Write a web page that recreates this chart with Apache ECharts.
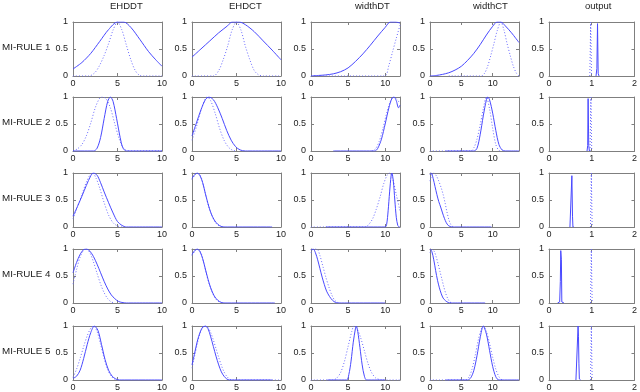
<!DOCTYPE html>
<html><head><meta charset="utf-8">
<script src="https://cdn.jsdelivr.net/npm/echarts@6/dist/echarts.min.js"></script>
<style>html,body{margin:0;padding:0;background:#fff}#c{width:640px;height:392px}</style>
</head><body><div id="c"></div>
<script>
// ---- labels ----
const variables = ['EHDDT', 'EHDCT', 'widthDT', 'widthCT', 'output'];
const rules = ['MI-RULE 1', 'MI-RULE 2', 'MI-RULE 3', 'MI-RULE 4', 'MI-RULE 5'];
const xMax = [10, 10, 12, 14.2, 2];
const xInterval = [5, 5, 5, 5, 1];
const yMin = 0, yMax = 1, yInterval = 0.5;

// ---- MI-RULE 1 ----
const r1_EHDDT_solid = [[0,0.13],[1,0.25],[2,0.42],[3,0.64],[4,0.86],[5,1],[5.7,1],[6.5,0.9],[7.5,0.68],[8.5,0.45],[9.3,0.3],[10,0.18]];
const r1_EHDDT_dot = [[0,0],[1.8,0],[2.5,0.07],[3,0.2],[3.5,0.38],[4,0.6],[4.5,0.85],[5,1],[5.5,0.85],[6,0.57],[6.5,0.3],[7,0.1],[7.5,0.01],[8,0],[10,0]];
const r1_EHDCT_solid = [[0,0.35],[1,0.5],[2,0.65],[3,0.8],[4,0.93],[4.5,1],[5.3,1],[6,0.95],[7,0.82],[8,0.65],[9,0.48],[10,0.3]];
const r1_EHDCT_dot = [[0,0],[2.4,0],[3,0.1],[3.5,0.3],[4,0.55],[4.5,0.85],[5,1],[5.5,0.85],[6,0.55],[6.5,0.3],[7,0.1],[7.5,0.02],[8,0],[10,0]];
const r1_widthDT_solid = [[0,0],[1,0.01],[2,0.02],[3,0.04],[4,0.08],[5,0.15],[6,0.27],[7,0.41],[8,0.57],[9,0.74],[10,0.9],[10.7,1],[11.4,1],[12,0.98]];
const r1_widthDT_dot = [[0,0],[9.9,0],[10.5,0.2],[11,0.45],[11.5,0.7],[12,0.94]];
const r1_widthCT_solid = [[0,0],[1,0.01],[2,0.03],[3,0.06],[4,0.11],[5,0.18],[6,0.29],[7,0.42],[8,0.58],[9,0.76],[10,0.92],[10.7,1],[11.3,1],[12,0.93],[13,0.8],[14.2,0.62]];
const r1_widthCT_dot = [[3,0],[8.2,0],[8.7,0.05],[9.2,0.18],[9.7,0.38],[10.2,0.6],[10.7,0.83],[11.3,1],[11.8,0.85],[12.3,0.6],[12.8,0.38],[13.3,0.18],[13.8,0.05],[14.2,0]];
const r1_output_solid = [[1.1,0],[1.12,0.14],[1.135,0.97],[1.15,0.05],[1.17,0]];
const r1_output_dot = [[0.955,0],[0.975,1],[0.995,0]];

// ---- MI-RULE 2 ----
const r2_EHDDT_solid = [[0,0],[2.3,0],[2.7,0.05],[3.1,0.25],[3.5,0.6],[3.9,0.92],[4.2,1],[4.5,0.92],[4.9,0.6],[5.3,0.25],[5.6,0.06],[6,0],[10,0]];
const r2_EHDDT_dot = [[0,0],[0.5,0.04],[1,0.12],[1.5,0.28],[2,0.52],[2.5,0.8],[3,0.98],[3.3,1],[3.7,0.97],[4.2,0.8],[4.7,0.5],[5.2,0.22],[5.6,0.07],[6,0.01],[6.5,0],[10,0]];
const r2_EHDCT_solid = [[0,0.28],[0.5,0.52],[1,0.76],[1.5,0.95],[1.9,1],[2.4,0.95],[2.9,0.8],[3.4,0.6],[3.9,0.38],[4.4,0.2],[4.9,0.08],[5.4,0.02],[6,0],[10,0]];
const r2_EHDCT_dot = [[0,0.2],[0.5,0.45],[1,0.75],[1.5,0.97],[1.7,1],[2.1,0.93],[2.6,0.7],[3.1,0.42],[3.6,0.2],[4.1,0.07],[4.6,0.01],[5,0]];
const r2_widthDT_solid = [[3,0],[8.6,0],[9,0.05],[9.5,0.22],[10,0.5],[10.5,0.8],[10.9,0.97],[11.2,1],[11.5,0.93],[11.8,0.8],[12,0.85]];
const r2_widthDT_dot = [[8.2,0],[8.7,0.04],[9.2,0.18],[9.7,0.42],[10.2,0.7],[10.7,0.92],[11.1,1],[11.5,0.97],[12,0.88]];
const r2_widthCT_solid = [[2.5,0],[7,0],[7.5,0.05],[8,0.3],[8.5,0.65],[9,0.95],[9.2,1],[9.5,0.95],[10,0.7],[10.5,0.38],[11,0.12],[11.5,0.02],[12,0],[14.2,0]];
const r2_widthCT_dot = [[0,0],[6.5,0],[7,0.06],[7.5,0.22],[8,0.48],[8.5,0.78],[9,1],[9.5,0.78],[10,0.42],[10.5,0.12],[11,0.01],[11.5,0]];
const r2_output_solid = [[0.89,0],[0.905,0.1],[0.915,0.97],[0.93,0.1],[0.945,0]];
const r2_output_dot = [[0.96,0],[0.98,1],[1.0,0]];

// ---- MI-RULE 3 ----
const r3_EHDDT_solid = [[0,0.2],[0.5,0.38],[1,0.57],[1.5,0.77],[2,0.95],[2.3,1],[2.7,0.96],[3.1,0.82],[3.5,0.65],[4,0.45],[4.5,0.26],[5,0.1],[5.5,0.03],[6,0],[10,0]];
const r3_EHDDT_dot = [[0,0.15],[0.5,0.37],[1,0.6],[1.5,0.83],[2,0.99],[2.2,1],[2.6,0.9],[3,0.72],[3.5,0.45],[4,0.22],[4.5,0.08],[5,0.02],[5.5,0]];
const r3_EHDCT_solid = [[0,0.9],[0.3,0.97],[0.6,1],[0.9,0.95],[1.2,0.82],[1.5,0.62],[1.8,0.43],[2.1,0.27],[2.5,0.13],[2.9,0.05],[3.3,0.01],[3.7,0],[9,0]];
const r3_EHDCT_dot = [[0,0.88],[0.4,0.98],[0.6,1],[1,0.93],[1.3,0.76],[1.6,0.55],[2,0.32],[2.4,0.15],[2.8,0.05],[3.2,0.01],[3.6,0]];
const r3_widthDT_solid = [[2,0],[10,0],[10.2,0.05],[10.4,0.3],[10.6,0.65],[10.8,0.95],[10.9,1],[11.1,0.85],[11.3,0.5],[11.5,0.18],[11.7,0.03],[11.9,0],[12,0]];
const r3_widthDT_dot = [[0,0],[7.3,0],[7.8,0.05],[8.3,0.15],[8.8,0.33],[9.3,0.55],[9.8,0.8],[10.3,0.97],[10.6,1],[11,0.9],[11.5,0.6],[12,0.3]];
const r3_widthCT_solid = [[0,0.97],[0.2,1],[0.5,0.9],[0.8,0.75],[1.1,0.6],[1.4,0.47],[1.7,0.37],[2,0.26],[2.3,0.16],[2.6,0.08],[2.9,0.03],[3.2,0.01],[3.5,0],[9.8,0]];
const r3_widthCT_dot = [[0,0.85],[0.3,0.97],[0.6,1],[1,0.95],[1.4,0.85],[1.8,0.72],[2.1,0.6],[2.4,0.45],[2.7,0.28],[3,0.14],[3.3,0.05],[3.6,0.01],[3.9,0]];
const r3_output_solid = [[0.49,0],[0.52,0.02],[0.535,0.95],[0.55,0.2],[0.56,0],[0.58,0]];
const r3_output_dot = [[0.97,0],[0.99,1],[1.01,0]];

// ---- MI-RULE 4 ----
const r4_EHDDT_solid = [[0,0.56],[0.4,0.75],[0.8,0.9],[1.2,0.99],[1.5,1],[1.9,0.96],[2.3,0.86],[2.7,0.72],[3.1,0.56],[3.5,0.4],[3.9,0.26],[4.3,0.15],[4.7,0.08],[5.1,0.03],[5.5,0.01],[6,0],[10,0]];
const r4_EHDDT_dot = [[0,0.35],[0.4,0.62],[0.8,0.85],[1.2,0.98],[1.5,1],[1.9,0.93],[2.3,0.76],[2.7,0.55],[3.1,0.35],[3.5,0.19],[3.9,0.08],[4.3,0.02],[4.7,0]];
const r4_EHDCT_solid = [[0,0.9],[0.3,0.97],[0.6,1],[0.9,0.95],[1.2,0.82],[1.5,0.63],[1.8,0.44],[2.1,0.28],[2.5,0.13],[2.9,0.05],[3.3,0.01],[3.7,0],[9.3,0]];
const r4_EHDCT_dot = [[0,0.88],[0.4,0.98],[0.6,1],[1,0.93],[1.3,0.76],[1.6,0.55],[2,0.32],[2.4,0.15],[2.8,0.05],[3.2,0.01],[3.6,0]];
const r4_widthDT_solid = [[0,0.98],[0.3,1],[0.6,0.93],[0.9,0.8],[1.2,0.64],[1.5,0.48],[1.8,0.34],[2.1,0.22],[2.5,0.12],[2.9,0.05],[3.3,0.01],[3.7,0],[10,0]];
const r4_widthDT_dot = [[0,0.93],[0.4,1],[0.8,1],[1.2,0.88],[1.6,0.68],[2,0.48],[2.4,0.3],[2.8,0.15],[3.2,0.05],[3.6,0.01],[4,0]];
const r4_widthCT_solid = [[0,1],[0.3,0.95],[0.6,0.8],[0.9,0.6],[1.2,0.42],[1.5,0.28],[1.8,0.17],[2.1,0.09],[2.5,0.04],[2.9,0.01],[3.3,0],[8.8,0]];
const r4_widthCT_dot = [[0,0.93],[0.4,0.99],[0.7,0.95],[1,0.85],[1.3,0.72],[1.6,0.58],[1.9,0.44],[2.2,0.3],[2.5,0.18],[2.8,0.09],[3.1,0.03],[3.4,0]];
const r4_output_solid = [[0.2,0],[0.25,0.02],[0.265,0.4],[0.275,0.97],[0.29,0.8],[0.3,0.02],[0.35,0]];
const r4_output_dot = [[0.97,0],[0.99,1],[1.01,0]];

// ---- MI-RULE 5 ----
const r5_EHDDT_solid = [[0,0.03],[0.4,0.07],[0.8,0.18],[1.2,0.4],[1.6,0.66],[2,0.88],[2.4,1],[2.8,0.92],[3.2,0.66],[3.6,0.38],[4,0.18],[4.4,0.07],[4.8,0.02],[5.2,0],[10,0]];
const r5_EHDDT_dot = [[0,0.05],[0.4,0.2],[0.8,0.4],[1.2,0.62],[1.6,0.82],[2,0.96],[2.3,1],[2.7,0.9],[3.1,0.66],[3.5,0.4],[3.9,0.19],[4.3,0.07],[4.7,0.01],[5.1,0]];
const r5_EHDCT_solid = [[0,0.28],[0.3,0.5],[0.6,0.72],[0.9,0.88],[1.2,0.98],[1.5,1],[1.8,0.95],[2.1,0.8],[2.4,0.62],[2.7,0.44],[3,0.28],[3.3,0.15],[3.6,0.07],[3.9,0.02],[4.2,0],[9,0]];
const r5_EHDCT_dot = [[0,0.22],[0.3,0.45],[0.6,0.68],[0.9,0.86],[1.2,0.97],[1.5,1],[1.8,0.97],[2.1,0.88],[2.4,0.74],[2.7,0.58],[3,0.42],[3.3,0.27],[3.6,0.15],[3.9,0.07],[4.2,0.02],[4.5,0],[10,0]];
const r5_widthDT_solid = [[2.2,0],[4.8,0],[5.1,0.1],[5.4,0.35],[5.7,0.7],[6,0.96],[6.1,1],[6.3,0.9],[6.6,0.6],[6.9,0.28],[7.2,0.07],[7.5,0],[10,0]];
const r5_widthDT_dot = [[0,0],[3,0],[3.5,0.04],[4,0.14],[4.5,0.34],[5,0.62],[5.5,0.9],[5.8,1],[6.2,0.95],[6.7,0.78],[7.2,0.54],[7.7,0.3],[8.2,0.13],[8.7,0.04],[9.2,0.01],[9.6,0],[12,0]];
const r5_widthCT_solid = [[2.5,0],[6,0],[6.5,0.04],[7,0.18],[7.5,0.45],[8,0.78],[8.5,1],[9,0.85],[9.5,0.55],[10,0.25],[10.5,0.06],[11,0],[14.2,0]];
const r5_widthCT_dot = [[0,0],[5.7,0],[6.2,0.05],[6.7,0.2],[7.2,0.45],[7.7,0.74],[8.2,0.95],[8.5,1],[9,0.9],[9.5,0.68],[10,0.42],[10.5,0.2],[11,0.06],[11.5,0]];
const r5_output_solid = [[0.63,0],[0.67,0.02],[0.68,1],[0.69,0.8],[0.7,0.3],[0.71,0.02],[0.74,0]];
const r5_output_dot = [[0.97,0],[0.99,1],[1.01,0]];

const solidCurves = [
  [r1_EHDDT_solid, r1_EHDCT_solid, r1_widthDT_solid, r1_widthCT_solid, r1_output_solid],
  [r2_EHDDT_solid, r2_EHDCT_solid, r2_widthDT_solid, r2_widthCT_solid, r2_output_solid],
  [r3_EHDDT_solid, r3_EHDCT_solid, r3_widthDT_solid, r3_widthCT_solid, r3_output_solid],
  [r4_EHDDT_solid, r4_EHDCT_solid, r4_widthDT_solid, r4_widthCT_solid, r4_output_solid],
  [r5_EHDDT_solid, r5_EHDCT_solid, r5_widthDT_solid, r5_widthCT_solid, r5_output_solid]
];
const dottedCurves = [
  [r1_EHDDT_dot, r1_EHDCT_dot, r1_widthDT_dot, r1_widthCT_dot, r1_output_dot],
  [r2_EHDDT_dot, r2_EHDCT_dot, r2_widthDT_dot, r2_widthCT_dot, r2_output_dot],
  [r3_EHDDT_dot, r3_EHDCT_dot, r3_widthDT_dot, r3_widthCT_dot, r3_output_dot],
  [r4_EHDDT_dot, r4_EHDCT_dot, r4_widthDT_dot, r4_widthCT_dot, r4_output_dot],
  [r5_EHDDT_dot, r5_EHDCT_dot, r5_widthDT_dot, r5_widthCT_dot, r5_output_dot]
];

// ---- layout (pixels) ----
const colLeft = [73, 192, 311, 430, 549];
const rowTop = [22, 97, 173, 249, 326];
const W = 89, H = 54;
const titleX = [110, 229, 355, 473, 585];
const FONT = "'Liberation Sans', Arial, sans-serif";
const AXC = '#7f7f7f';
const LINEC = '#4848ff';

const grid = [], xAxis = [], yAxis = [], series = [], graphic = [];
for (let r = 0; r < 5; r++) {
  for (let c = 0; c < 5; c++) {
    const k = r * 5 + c;
    grid.push({ left: colLeft[c], top: rowTop[r], width: W, height: H, show: false });
    const xBase = {
      gridIndex: k, type: 'value', min: 0, max: xMax[c], interval: xInterval[c],
      splitLine: { show: false },
      axisLine: { show: true, onZero: false, lineStyle: { color: AXC, width: 1 } },
      axisTick: { show: true, inside: true, length: 3, lineStyle: { color: AXC } }
    };
    xAxis.push(Object.assign({}, xBase, {
      position: 'bottom',
      axisLabel: { show: true, fontSize: 9, color: '#222', margin: 3, fontFamily: FONT,
        showMaxLabel: (c === 2 || c === 3) ? false : true, showMinLabel: true }
    }));
    xAxis.push(Object.assign({}, xBase, { position: 'top', axisLabel: { show: false } }));
    const yBase = {
      gridIndex: k, type: 'value', min: yMin, max: yMax, interval: yInterval,
      splitLine: { show: false },
      axisLine: { show: true, onZero: false, lineStyle: { color: AXC, width: 1 } },
      axisTick: { show: true, inside: true, length: 3, lineStyle: { color: AXC } }
    };
    yAxis.push(Object.assign({}, yBase, {
      position: 'left',
      axisLabel: { show: true, fontSize: 9, color: '#222', margin: 5, fontFamily: FONT }
    }));
    yAxis.push(Object.assign({}, yBase, { position: 'right', axisLabel: { show: false } }));

    const smooth = c === 4 ? false : 0.3;
    series.push({
      type: 'line', xAxisIndex: 2 * k, yAxisIndex: 2 * k, data: solidCurves[r][c],
      showSymbol: false, symbol: 'none', smooth: smooth, silent: true, z: 3,
      lineStyle: { color: LINEC, width: 1, type: 'solid' }
    });
    series.push({
      type: 'line', xAxisIndex: 2 * k, yAxisIndex: 2 * k, data: dottedCurves[r][c],
      showSymbol: false, symbol: 'none', smooth: smooth, silent: true, z: 2,
      lineStyle: { color: '#6a6aff', width: 1, type: [1, 2] }
    });
  }
}
for (let c = 0; c < 5; c++) {
  graphic.push({ type: 'text', left: titleX[c], top: 1, silent: true,
    style: { text: variables[c], fontSize: 9.5, fill: '#222', fontFamily: FONT, textAlign: 'center' } });
}
for (let r = 0; r < 5; r++) {
  graphic.push({ type: 'text', left: 2, top: rowTop[r] + 20, silent: true,
    style: { text: rules[r], fontSize: 9.8, fill: '#222', fontFamily: FONT } });
}

const chart = echarts.init(document.getElementById('c'), null, { renderer: 'canvas' });
chart.setOption({ animation: false, backgroundColor: '#fff', grid, xAxis, yAxis, series, graphic });
</script>
</body></html>
